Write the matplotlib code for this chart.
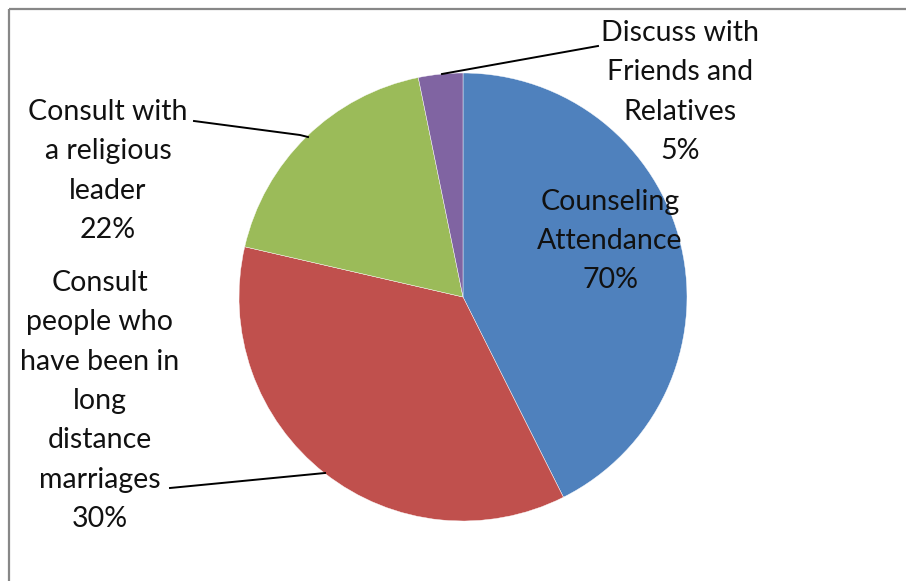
import matplotlib
matplotlib.use("Agg")
import matplotlib.pyplot as plt

## slice shares (clockwise from 12 o'clock)
categories = [
    "Counseling\nAttendance",
    "Consult\npeople who\nhave been in\nlong\ndistance\nmarriages",
    "Consult with\na religious\nleader",
    "Discuss with\nFriends and\nRelatives",
]
shares = [42.6, 36.0, 18.2, 3.2]
label_pcts = ["70%", "30%", "22%", "5%"]
colors = ["#4F81BD", "#C0504D", "#9BBB59", "#8064A2"]

W, H = 906, 581
FONT = "Lato"
FS = 20.5


def py(y):
    return H - y


def main() -> None:
    fig = plt.figure(figsize=(W / 100, H / 100), dpi=100)
    ax = fig.add_axes([0, 0, 1, 1])

    ax.pie(
        shares,
        colors=colors,
        startangle=90,
        counterclock=False,
        center=(463, py(297)),
        radius=224,
        wedgeprops=dict(edgecolor="white", linewidth=0.3),
        frame=True,
    )
    ax.set_xlim(0, W)
    ax.set_ylim(0, H)
    ax.set_aspect("equal")
    ax.axis("off")

    ## chart frame (left and top edges only visible)
    ax.plot([8.5, 8.5], [0, py(8.5)], color="#878787", lw=1.6, solid_capstyle="butt")
    ax.plot([8.5, W], [py(8.5), py(8.5)], color="#878787", lw=1.6, solid_capstyle="butt")

    label_pos = [(610, 241), (100, 401), (108, 171), (680, 92)]
    for text, pct, (x, y) in zip(categories, label_pcts, label_pos):
        ax.text(
            x, py(y), f"{text}\n{pct}",
            ha="center", va="center", fontsize=FS, family=FONT,
            linespacing=1.64, color="#111111",
        )

    ## leader lines
    leaders = [
        ([442, 598], [74, 46]),
        ([194, 300, 308], [121, 135, 137]),
        ([170, 325], [488, 473]),
    ]
    for xs, ys in leaders:
        ax.plot(xs, [py(v) for v in ys], color="black", lw=1.4)

    fig.savefig("out.png", dpi=100)


if __name__ == "__main__":
    main()
